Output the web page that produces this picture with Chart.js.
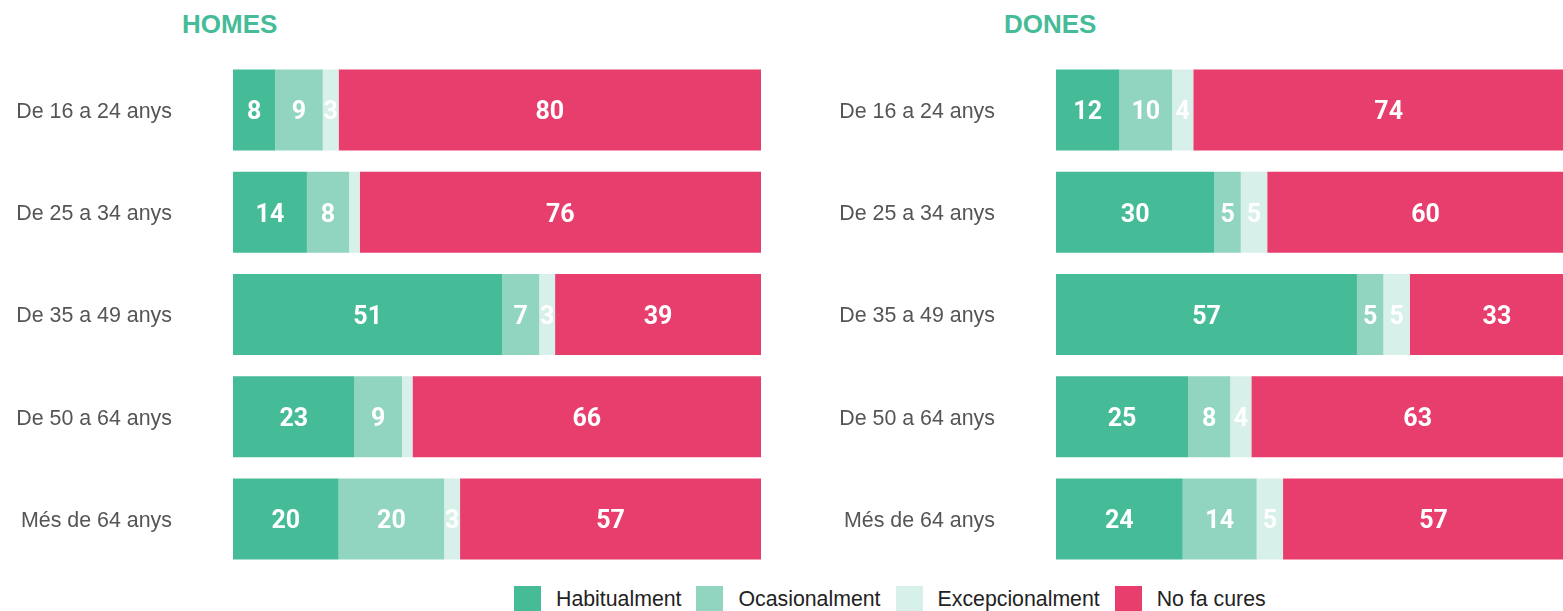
<!DOCTYPE html>
<html><head><meta charset="utf-8">
<script src="https://cdn.jsdelivr.net/npm/chart.js@4"></script>
<style>
html,body{margin:0;padding:0;width:1563px;height:611px;overflow:hidden;background:#fff;position:relative}
canvas{position:absolute}
.title{position:absolute;top:11px;font:bold 26px 'Liberation Sans',Arial,sans-serif;line-height:26px;color:#46bb98;white-space:nowrap}
#legend{position:absolute;left:514px;top:586px;display:flex;align-items:center;font:21.3px 'Liberation Sans',Arial,sans-serif;color:#222;line-height:27px;white-space:nowrap}
.box{width:27px;height:27px;margin-right:15px;flex:none}
.lab{margin-right:15px}
</style></head><body>
<div class="title" style="left:182px">HOMES</div>
<div class="title" style="left:1004px">DONES</div>
<canvas id="homes" width="761" height="511" style="left:0;top:59px"></canvas>
<canvas id="dones" width="761" height="511" style="left:823px;top:59px"></canvas>
<div id="legend"></div>
<script>
const categories = ['De 16 a 24 anys','De 25 a 34 anys','De 35 a 49 anys','De 50 a 64 anys','Més de 64 anys'];
const seriesNames = ['Habitualment','Ocasionalment','Excepcionalment','No fa cures'];
const seriesColors = ['#46bb98','#91d5c1','#d8f0ea','#e83e6d'];

const homesHabitualment = [8,14,51,23,20];
const homesOcasionalment = [9,8,7,9,20];
const homesExcepcionalment = [3,2,3,2,3];
const homesNoFaCures = [80,76,39,66,57];

const donesHabitualment = [12,30,57,25,24];
const donesOcasionalment = [10,5,5,8,14];
const donesExcepcionalment = [4,5,5,4,5];
const donesNoFaCures = [74,60,33,63,57];

const valueLabels = {
  id:'valueLabels',
  afterDatasetsDraw(chart){
    const ctx = chart.ctx;
    ctx.save();
    ctx.font = 'bold 25px Roboto, "Liberation Sans", sans-serif';
    ctx.fillStyle = '#ffffff';
    ctx.textAlign = 'center';
    ctx.textBaseline = 'middle';
    chart.data.datasets.forEach((ds,i)=>{
      const meta = chart.getDatasetMeta(i);
      meta.data.forEach((bar,j)=>{
        const v = ds.data[j];
        if (v < 3) return;
        const p = bar.getProps(['x','y','base'], true);
        ctx.fillText(String(v), (p.x + p.base)/2, p.y + 3);
      });
    });
    ctx.restore();
  }
};

function makeChart(id, seriesData){
  return new Chart(document.getElementById(id), {
    type:'bar',
    data:{
      labels: categories,
      datasets: seriesData.map((d,i)=>({
        label: seriesNames[i],
        data: d,
        backgroundColor: seriesColors[i],
        borderWidth: 0,
        barPercentage: 0.793,
        categoryPercentage: 1
      }))
    },
    options:{
      indexAxis:'y',
      responsive:false,
      animation:false,
      layout:{padding:0},
      plugins:{legend:{display:false}, tooltip:{enabled:false}, title:{display:false}},
      scales:{
        x:{stacked:true, min:0, max:100, display:false},
        y:{
          stacked:true,
          grid:{display:false, drawTicks:false},
          border:{display:false},
          ticks:{padding:61, labelOffset:2, color:'#555555', font:{family:'"Liberation Sans", Arial, sans-serif', size:21.4}},
          afterFit(s){ s.width = 233; s.paddingTop = 0; s.paddingBottom = 0; }
        }
      }
    },
    plugins:[valueLabels]
  });
}

makeChart('homes', [homesHabitualment, homesOcasionalment, homesExcepcionalment, homesNoFaCures]);
makeChart('dones', [donesHabitualment, donesOcasionalment, donesExcepcionalment, donesNoFaCures]);

const legend = document.getElementById('legend');
seriesNames.forEach((n,i)=>{
  const b = document.createElement('span'); b.className='box'; b.style.background = seriesColors[i];
  const t = document.createElement('span'); t.className='lab'; t.textContent = n;
  legend.appendChild(b); legend.appendChild(t);
});
</script>
</body></html>
